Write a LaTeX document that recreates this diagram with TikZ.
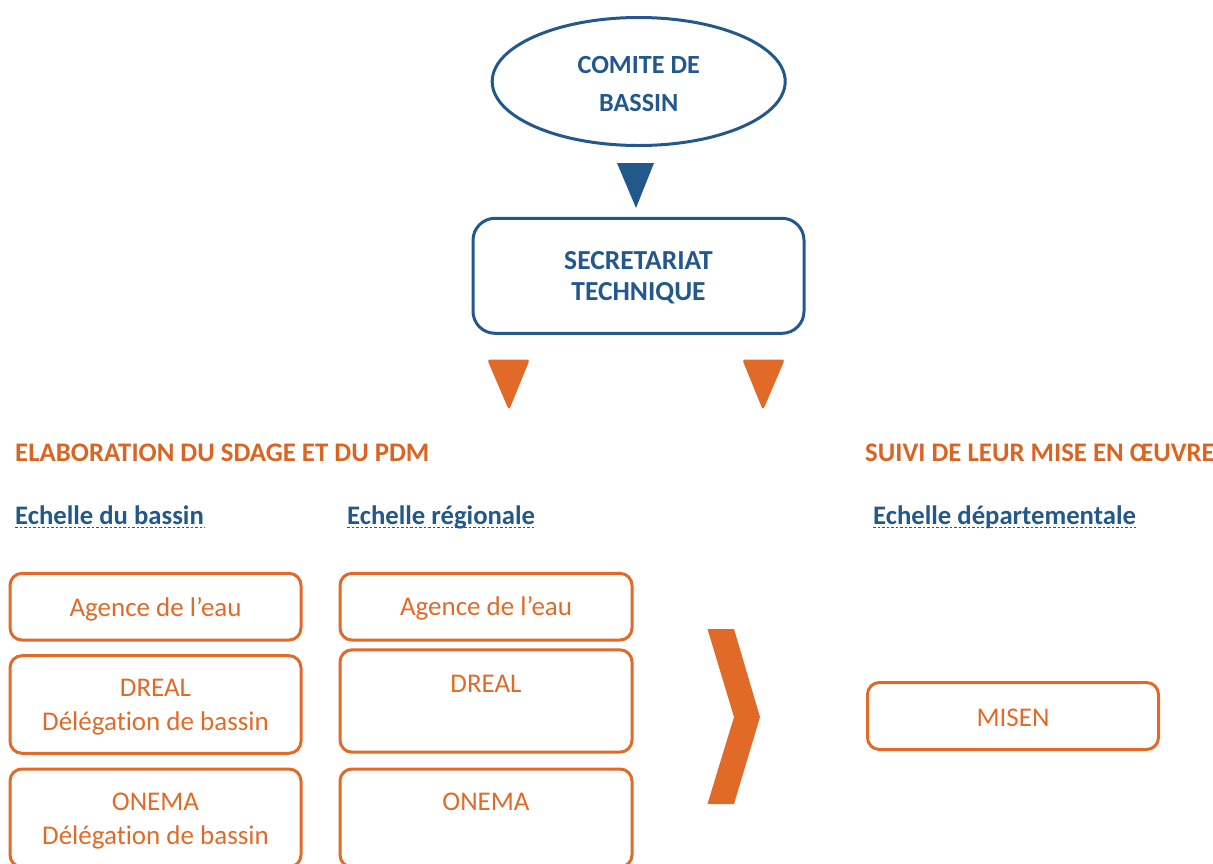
\documentclass[tikz,border=0pt]{standalone}
\usepackage{fontspec}
\setmainfont{Carlito}[Ligatures=CommonOff]
\usetikzlibrary{shapes.geometric}
\definecolor{dblue}{RGB}{34,88,140}
\definecolor{orng}{RGB}{225,106,40}
\definecolor{orhead}{RGB}{218,100,34}
\tikzset{
  obox/.style={draw=orng, line width=3pt, rounded corners=12pt, text=orng, inner sep=0pt,
    minimum width=291pt, align=center, text height=20pt, font=\fontsize{27}{33.3}\selectfont},
  head/.style={text=orhead, inner sep=0pt, anchor=base west, font=\fontsize{26.8}{32}\selectfont\bfseries},
  scaletext/.style={text=dblue, inner sep=0pt, anchor=base west, font=\fontsize{26.7}{32}\selectfont\bfseries},
  uline/.style={dblue, line width=1.6pt, dash pattern=on 2.5pt off 2pt},
  bluetri/.style={fill=dblue},
  ortri/.style={fill=orng, draw=orng, line width=1pt, rounded corners=2pt, line join=round}
}
\begin{document}
\begin{tikzpicture}[x=1pt,y=-1pt]
\useasboundingbox (0,0) rectangle (1213,863);
% top
\node[ellipse, draw=dblue, line width=3pt, minimum width=293pt, minimum height=128pt, inner sep=0pt,
  text=dblue, align=center, text height=60pt, text depth=1pt,
  font=\fontsize{26.2}{37.7}\selectfont\bfseries] (comite) at (638.7,81.5) {COMITE DE\\BASSIN};
\node[draw=dblue, line width=3pt, rounded corners=22pt, minimum width=331pt, minimum height=115pt, inner sep=0pt,
  text=dblue, align=center, text height=60pt, text depth=11.6pt,
  font=\fontsize{27.5}{30.7}\selectfont\bfseries] (secr) at (638.5,275.8) {SECRETARIAT\\TECHNIQUE};
\fill[bluetri] (617,163) -- (654,163) -- (636,208) -- cycle;
\filldraw[ortri] (488,360) -- (529,360) -- (509,409) -- cycle;
\filldraw[ortri] (743,360) -- (784,360) -- (763,409) -- cycle;
% headings
\node[head] (h1) at (15,461) {ELABORATION DU SDAGE ET DU PDM};
\node[head] (h2) at (865,461) {SUIVI DE LEUR MISE EN ŒUVRE};
\node[scaletext] (e1) at (15,524) {Echelle du bassin};
\node[scaletext] (e2) at (347,524) {Echelle régionale};
\node[scaletext] (e3) at (873,524) {Echelle départementale};
\foreach \n in {e1,e2,e3}{
  \draw[uline] ([yshift=-3.5pt]\n.base west) -- ([yshift=-3.5pt]\n.base east);
}
% column 1
\node[obox, minimum height=66.7pt, text depth=0pt] (a1) at (155.5,606.7) {Agence de l’eau};
\node[obox, minimum height=97.6pt, text height=60pt, text depth=9pt] (d1) at (155.5,704.5) {DREAL\\Délégation de bassin};
\node[obox, minimum height=98pt, text height=60pt, text depth=8pt] (o1) at (155.5,818) {ONEMA\\Délégation de bassin};
% column 2
\node[obox, minimum width=292pt, minimum height=66.7pt, text depth=2pt] (a2) at (486,606.7) {Agence de l’eau};
\node[obox, minimum width=292pt, minimum height=102.3pt, text depth=37.4pt] (d2) at (486,701) {DREAL};
\node[obox, minimum width=292pt, minimum height=98pt, text depth=34.6pt] (o2) at (486,818) {ONEMA};
% chevron
\fill[orng] (707.5,629) -- (734,629) -- (760,717) -- (734,804) -- (707.5,804) -- (734,717) -- cycle;
% MISEN
\node[obox, minimum width=291pt, minimum height=67pt, text depth=0pt] (misen) at (1013,716) {MISEN};
\end{tikzpicture}
\end{document}
